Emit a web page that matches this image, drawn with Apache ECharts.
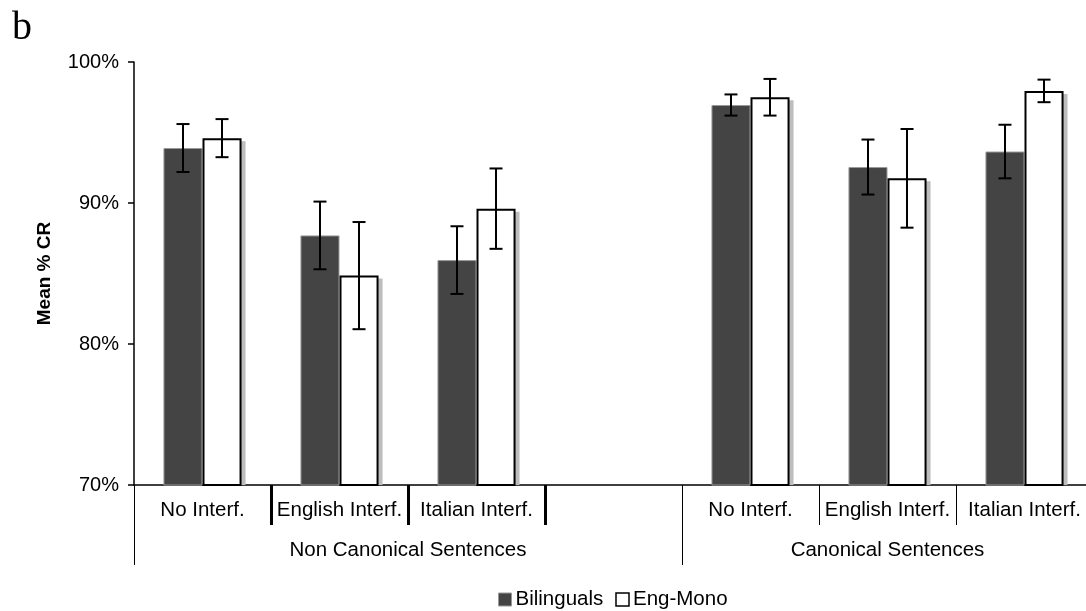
<!DOCTYPE html>
<html>
<head>
<meta charset="utf-8">
<script src="https://cdn.jsdelivr.net/npm/echarts@6/dist/echarts.min.js"></script>
<style>html,body{margin:0;padding:0;background:#fff;overflow:hidden}#c{width:1093px;height:611px}</style>
</head>
<body>
<div id="c"></div>
<script>
// ---- data ----
const categories = ['No Interf.', 'English Interf.', 'Italian Interf.', '', 'No Interf.', 'English Interf.', 'Italian Interf.'];
const groupNames = ['Non Canonical Sentences', 'Canonical Sentences'];
const groupSizes = [4, 3];
const bilinguals = [93.9, 87.7, 85.95, null, 96.95, 92.55, 93.65];
const bilErr = [1.7, 2.4, 2.4, null, 0.75, 1.95, 1.9];
const engMono = [94.6, 84.85, 89.6, null, 97.5, 91.75, 97.95];
const monoErr = [1.35, 3.8, 2.85, null, 1.3, 3.5, 0.8];
const yTicks = [70, 80, 90, 100];

// ---- derived ----
const FONT = '"Liberation Sans", Arial, sans-serif';
const BAR_FRAC = 0.285;
const groupBounds = [0];
groupSizes.forEach((s, i) => groupBounds.push(groupBounds[i] + s));
const groupCenters = groupSizes.map((s, i) => groupBounds[i] + s / 2);
const innerTicks = groupSizes.map((s, g) => {
  const out = [];
  for (let k = 1; k < s; k++) out.push(groupBounds[g] + k);
  return out;
});
const total = groupBounds[groupBounds.length - 1];

function errData(vals, errs) {
  return vals.map((v, i) => v == null ? null : [i, v - errs[i], v + errs[i]]).filter(d => d);
}
function errRender(side) {
  return function (params, api) {
    const i = api.value(0);
    const lo = api.coord([i, api.value(1)]);
    const hi = api.coord([i, api.value(2)]);
    const band = api.size([1, 0])[0];
    const x = lo[0] + side * band * BAR_FRAC / 2;
    const cap = 6.5;
    const st = { stroke: '#000', lineWidth: 2 };
    return {
      type: 'group',
      children: [
        { type: 'line', shape: { x1: x, y1: hi[1], x2: x, y2: lo[1] }, style: st },
        { type: 'line', shape: { x1: x - cap, y1: hi[1], x2: x + cap, y2: hi[1] }, style: st },
        { type: 'line', shape: { x1: x - cap, y1: lo[1], x2: x + cap, y2: lo[1] }, style: st }
      ]
    };
  };
}
function shadowRender(params, api) {
  const i = api.value(0);
  const top = api.coord([i, api.value(1)]);
  const base = api.coord([i, yTicks[0]]);
  const band = api.size([1, 0])[0];
  const w = band * BAR_FRAC;
  return {
    type: 'rect',
    shape: { x: top[0] + 4, y: top[1] + 3, width: w, height: base[1] - top[1] - 3 },
    style: { fill: '#bdbdbd' }
  };
}
function valueAxisTicks(values, len, width) {
  return {
    type: 'value', min: 0, max: total, position: 'bottom',
    axisLine: { show: false }, splitLine: { show: false },
    axisTick: { show: true, customValues: values, length: len, lineStyle: { color: '#000', width: width } },
    axisLabel: { show: false }
  };
}

const chart = echarts.init(document.getElementById('c'), null, { renderer: 'canvas' });
chart.setOption({
  animation: false,
  backgroundColor: '#fff',
  title: {
    text: 'b', left: 7, top: 3,
    textStyle: { fontFamily: '"Liberation Serif", "Times New Roman", serif', fontSize: 40, fontWeight: 'normal', color: '#000' }
  },
  legend: {
    left: 493, top: 584,
    icon: 'rect',
    itemWidth: 13, itemHeight: 13, itemGap: 12,
    textStyle: { fontFamily: FONT, fontSize: 20.5, color: '#000', padding: [0, 0, 0, -1] },
    data: [
      { name: 'Bilinguals', itemStyle: { color: '#444', borderColor: '#999', borderWidth: 1 } },
      { name: 'Eng-Mono', itemStyle: { color: '#fff', borderColor: '#000', borderWidth: 1.5 } }
    ]
  },
  grid: { left: 134, right: 0, top: 62, bottom: 126, containLabel: false },
  xAxis: [
    {
      type: 'category', data: categories, position: 'bottom',
      axisLine: { lineStyle: { color: '#000', width: 1.5 } },
      axisTick: { show: false },
      axisLabel: { margin: 15, fontFamily: FONT, fontSize: 20.5, color: '#000', interval: 0 }
    },
    {
      type: 'value', min: 0, max: total, position: 'bottom',
      axisLine: { show: false },
      splitLine: { show: false },
      axisTick: { show: true, customValues: groupBounds.slice(0, -1), length: 80, lineStyle: { color: '#000', width: 1 } },
      axisLabel: {
        customValues: groupCenters, margin: 55, fontFamily: FONT, fontSize: 20.5, color: '#000',
        formatter: (v) => { const k = groupCenters.indexOf(v); return k >= 0 ? groupNames[k] : ''; }
      }
    },
    valueAxisTicks(innerTicks[0], 40, 3),
    valueAxisTicks(innerTicks[1], 40, 1)
  ],
  yAxis: {
    type: 'value', min: yTicks[0], max: yTicks[yTicks.length - 1], interval: 10,
    name: 'Mean % CR', nameLocation: 'middle', nameGap: 80, nameRotate: 90,
    nameTextStyle: { fontFamily: FONT, fontSize: 19, fontWeight: 'bold', color: '#000' },
    axisLine: { show: true, lineStyle: { color: '#000', width: 1.5 } },
    axisTick: { show: true, length: 6, lineStyle: { color: '#000', width: 1.5 } },
    splitLine: { show: false },
    axisLabel: { fontFamily: FONT, fontSize: 20, color: '#000', margin: 15, formatter: (v) => v + '%' }
  },
  series: [
    {
      type: 'custom', renderItem: shadowRender, z: 1, silent: true,
      data: engMono.map((v, i) => v == null ? null : [i, v]).filter(d => d),
      encode: { x: 0, y: 1 }
    },
    {
      name: 'Bilinguals', type: 'bar', data: bilinguals, barWidth: (BAR_FRAC * 100) + '%', barGap: '0%', z: 2,
      itemStyle: { color: '#444', borderColor: '#999', borderWidth: 1 }
    },
    {
      name: 'Eng-Mono', type: 'bar', data: engMono, barWidth: (BAR_FRAC * 100) + '%', barGap: '0%', z: 2,
      itemStyle: { color: '#fff', borderColor: '#000', borderWidth: 2 }
    },
    { type: 'custom', renderItem: errRender(-1), data: errData(bilinguals, bilErr), encode: { x: 0, y: [1, 2] }, z: 10, silent: true },
    { type: 'custom', renderItem: errRender(1), data: errData(engMono, monoErr), encode: { x: 0, y: [1, 2] }, z: 10, silent: true }
  ]
});
</script>
</body>
</html>
